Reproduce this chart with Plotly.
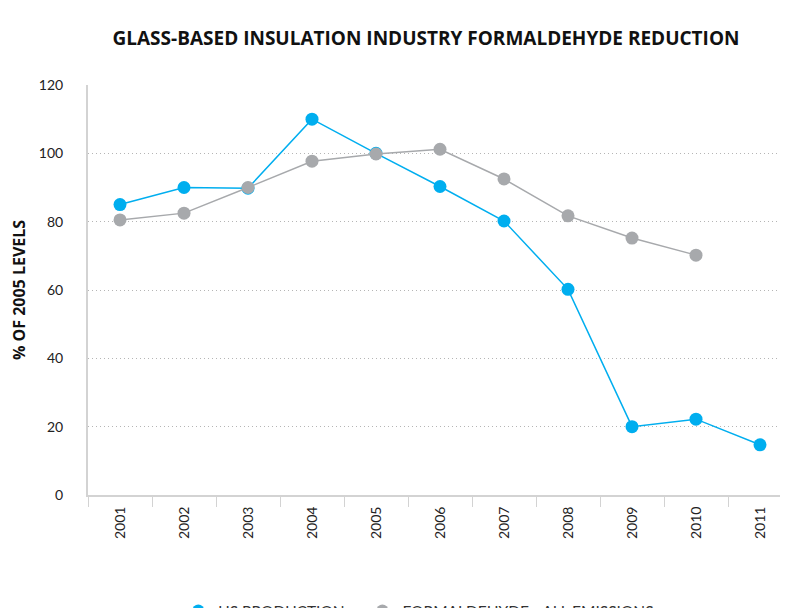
import plotly.graph_objects as go

years = ["2001", "2002", "2003", "2004", "2005", "2006", "2007", "2008", "2009", "2010", "2011"]
us_production = [85, 90, 89.8, 110, 100, 90.3, 80.2, 60.2, 20, 22.2, 14.7]
formaldehyde = [80.5, 82.5, 90, 97.7, 99.8, 101.2, 92.5, 81.7, 75.2, 70.2, None]

BLUE = "#00AEEF"
GREY = "#A7A9AC"
FONT = "Lato, 'Open Sans', sans-serif"

fig = go.Figure()
fig.add_trace(go.Scatter(
    x=years, y=us_production, name="US PRODUCTION", mode="lines+markers",
    line=dict(color=BLUE, width=1.5), marker=dict(color=BLUE, size=13),
    showlegend=False,
))
fig.add_trace(go.Scatter(
    x=years, y=formaldehyde, name="FORMALDEHYDE - ALL EMISSIONS", mode="lines+markers",
    line=dict(color=GREY, width=1.5), marker=dict(color=GREY, size=13),
    showlegend=False,
))
# legend-only entries (dots, no line)
fig.add_trace(go.Scatter(x=[None], y=[None], name="US PRODUCTION", mode="markers",
                         marker=dict(color=BLUE, size=13), legend="legend"))
fig.add_trace(go.Scatter(x=[None], y=[None], name="FORMALDEHYDE - ALL EMISSIONS", mode="markers",
                         marker=dict(color=GREY, size=13), legend="legend2"))

legend_common = dict(
    orientation="h", xanchor="left", xref="paper",
    y=-0.283, yanchor="middle",
    font=dict(family=FONT, size=15.5, color="#333"),
    itemsizing="constant", bgcolor="rgba(0,0,0,0)",
)

fig.update_layout(
    width=788, height=608,
    margin=dict(l=80, r=8, t=77, b=121, autoexpand=False),
    paper_bgcolor="white", plot_bgcolor="white",
    font=dict(family=FONT, size=14, color="#222"),
    title=dict(
        text="<b>GLASS-BASED INSULATION INDUSTRY FORMALDEHYDE REDUCTION</b>",
        x=418 / 788, xanchor="center", xref="container",
        y=1 - 30 / 608, yanchor="middle", yref="container",
        font=dict(family="'Open Sans', sans-serif", size=19, color="#111"),
    ),
    showlegend=True,
    legend=dict(x=0.129, **legend_common),
    legend2=dict(x=0.392, **legend_common),
    xaxis=dict(
        type="category", range=[-0.5, 10.4375], automargin=False,
        showgrid=False, showline=True, linecolor="#D3D3D3", linewidth=2,
        ticks="outside", tickson="boundaries", ticklen=10, tickcolor="#D3D3D3",
        tickangle=-90, tickfont=dict(family=FONT, size=14, color="#222"),
        ticklabelstandoff=4,
    ),
    yaxis=dict(
        range=[0, 120], dtick=20, automargin=False,
        showgrid=True, gridcolor="#B5B5B5", griddash="1px,3px", gridwidth=1,
        zeroline=False, showline=True, linecolor="#D3D3D3", linewidth=2,
        ticks="", ticklabelstandoff=20,
        tickfont=dict(family=FONT, size=14, color="#222"),
        title=dict(text="<b>% OF 2005 LEVELS</b>", standoff=12,
                   font=dict(family="'Open Sans', sans-serif", size=16, color="#111")),
    ),
)

fig.write_html("out.html")
